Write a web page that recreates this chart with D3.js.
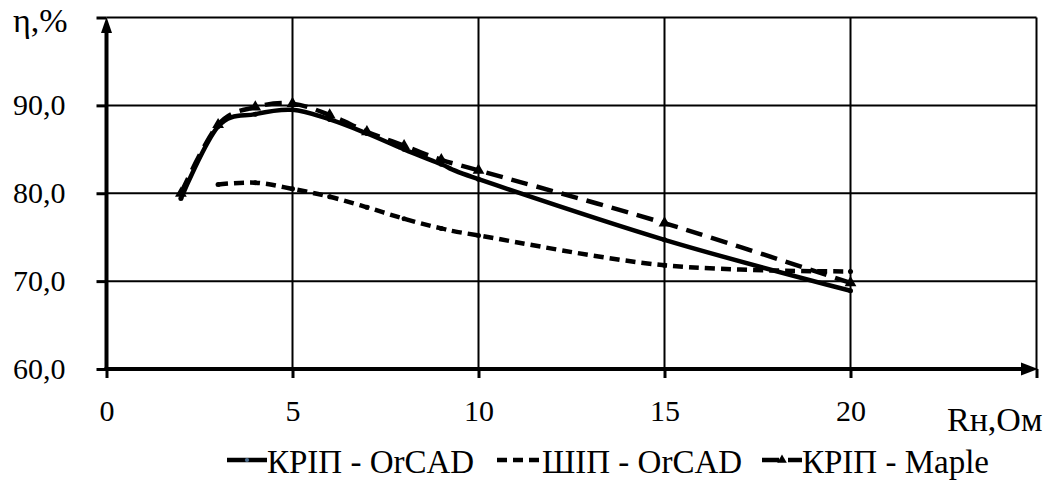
<!DOCTYPE html>
<html>
<head>
<meta charset="utf-8">
<script src="https://cdn.jsdelivr.net/npm/d3@7"></script>
</head>
<body style="margin:0">
<svg id="chart" width="1059" height="481"></svg>
<script>
// values
const xTicks = [0, 5, 10, 15, 20, 25];
const yTicks = [60, 70, 80, 90, 100];
const rKrip = [2, 3, 4, 5, 6, 7, 8, 9, 10, 15, 20];
const kripOrcad = [79.4, 87.6, 89.0, 89.5, 88.4, 86.8, 85.0, 83.3, 81.6, 74.7, 68.9];
const rShip = [3, 4, 5, 6, 7, 8, 9, 10, 15, 20];
const shipOrcad = [81.0, 81.2, 80.5, 79.6, 78.4, 77.1, 76.0, 75.2, 71.8, 71.1];
const kripMaple = [80.0, 87.8, 89.8, 90.2, 88.9, 87.0, 85.4, 83.8, 82.6, 76.6, 69.8];
const seriesNames = ["КРІП - OrCAD", "ШІП - OrCAD", "КРІП - Maple"];

const svg = d3.select("#chart");
const x = d3.scaleLinear().domain([0, 25]).range([106.5, 1036.5]);
const y = d3.scaleLinear().domain([60, 100]).range([369, 17.5]);
const fmt = d => d3.format(".1f")(d).replace(".", ",");

function serif(sel, size) {
  return sel.attr("font-size", size).attr("fill", "#000")
    .style("font-family", '"Times New Roman"');
}

// grid
svg.append("g").selectAll("line").data(yTicks.slice(1)).join("line")
  .attr("x1", x(0)).attr("x2", x(25))
  .attr("y1", d => y(d)).attr("y2", d => y(d))
  .attr("stroke", "#000").attr("stroke-width", 2);
svg.append("g").selectAll("line").data(xTicks.slice(1)).join("line")
  .attr("x1", d => x(d)).attr("x2", d => x(d))
  .attr("y1", y(60)).attr("y2", y(100))
  .attr("stroke", "#000").attr("stroke-width", 2);

// axes
const yAxis = svg.append("g").attr("transform", `translate(${x(0)},0)`)
  .call(d3.axisLeft(y).tickValues(yTicks).tickSize(10).tickPadding(31)
    .tickFormat(d => d === 100 ? "" : fmt(d)));
const xAxis = svg.append("g").attr("transform", `translate(0,${y(60)})`)
  .call(d3.axisBottom(x).tickValues(xTicks).tickSize(9).tickPadding(22)
    .tickFormat(d => d === 25 ? "" : d));
[yAxis, xAxis].forEach(g => {
  g.attr("font-family", null).attr("font-size", null);
  g.select(".domain").remove();
  g.selectAll(".tick line").attr("stroke", "#000").attr("stroke-width", 3);
  serif(g.selectAll(".tick text"), 30);
});

svg.append("line").attr("x1", x(0)).attr("x2", x(0))
  .attr("y1", y(60) + 2).attr("y2", 30)
  .attr("stroke", "#000").attr("stroke-width", 4);
svg.append("path").attr("d", `M${x(0)},17 L${x(0) - 5.5},33 L${x(0) + 5.5},33Z`).attr("fill", "#000");
svg.append("line").attr("x1", x(0) - 2).attr("x2", 1024)
  .attr("y1", y(60)).attr("y2", y(60))
  .attr("stroke", "#000").attr("stroke-width", 4);
svg.append("path").attr("d", `M1038,${y(60)} L1021,${y(60) - 6.5} L1021,${y(60) + 6.5}Z`).attr("fill", "#000");

serif(svg.append("text").attr("x", 13).attr("y", 32), 34).text("η,%");
serif(svg.append("text").attr("x", 947).attr("y", 431), 34).text("Rн,Ом");

// series
const lineGen = d3.line().x(d => x(d[0])).y(d => y(d[1])).curve(d3.curveCardinal.tension(0));
const series = [
  { pts: d3.zip(rKrip, kripOrcad), dash: null, marker: "dot" },
  { pts: d3.zip(rShip, shipOrcad), dash: "10,6", marker: "dot" },
  { pts: d3.zip(rKrip, kripMaple), dash: "17,9", marker: "tri" }
];

series.forEach(s => {
  svg.append("path").attr("d", lineGen(s.pts))
    .attr("fill", "none").attr("stroke", "#000").attr("stroke-width", 4.5)
    .attr("stroke-dasharray", s.dash);
  svg.append("g").selectAll("path").data(s.pts).join("path")
    .attr("transform", d => `translate(${x(d[0])},${y(d[1])})`)
    .attr("fill", "#000")
    .attr("d", s.marker === "tri" ? d3.symbol().type(d3.symbolTriangle).size(60)()
                                  : d3.symbol().type(d3.symbolCircle).size(20)());
});

// legend
const legendX = [227, 497, 762];
series.forEach((s, i) => {
  const g = svg.append("g").attr("transform", `translate(${legendX[i]},460)`);
  g.append("line").attr("x1", 0).attr("x2", i === 1 ? 44 : 40)
    .attr("stroke", "#000").attr("stroke-width", 4.5)
    .attr("stroke-dasharray", s.dash);
  g.append("path").attr("transform", "translate(20,0)")
    .attr("d", s.marker === "tri" ? d3.symbol().type(d3.symbolTriangle).size(40)()
                                  : d3.symbol().type(d3.symbolCircle).size(14)())
    .attr("fill", i === 0 ? "#4a6a8a" : "#000");
  serif(g.append("text").attr("x", i === 1 ? 45 : 40).attr("y", 13), 33).text(seriesNames[i]);
});
</script>
</body>
</html>
